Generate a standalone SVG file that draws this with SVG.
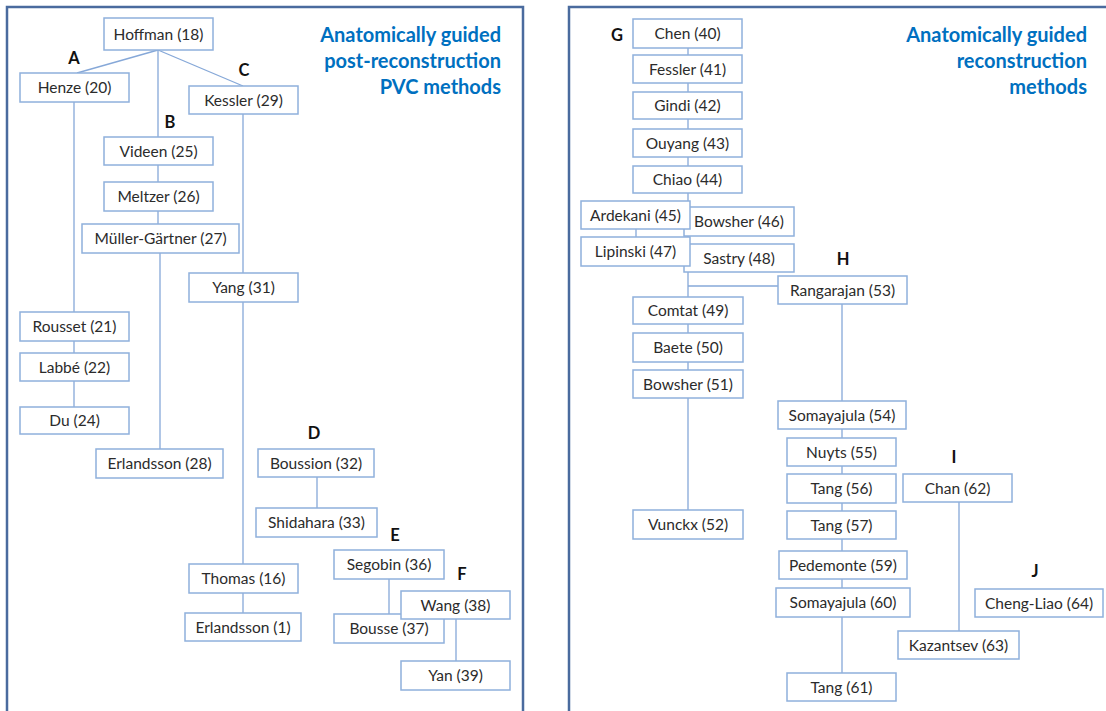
<svg xmlns="http://www.w3.org/2000/svg" width="1106" height="711" viewBox="0 0 1106 711">
<style>
.frame{fill:none;stroke:#4A6B9E;stroke-width:2.5}
.n rect{fill:#fff;stroke:#8FB0DC;stroke-width:1.5}
.n text{font-family:Lato,"Liberation Sans",sans-serif;font-size:15.5px;fill:#2b2b2b;text-anchor:middle}
.c path{fill:none;stroke:#86A8D8;stroke-width:1.3}
.lbl{font-family:Lato,"Liberation Sans",sans-serif;font-size:16.5px;font-weight:bold;fill:#111;text-anchor:middle}
.title{font-family:Lato,"Liberation Sans",sans-serif;font-size:20px;font-weight:bold;fill:#0070C0;text-anchor:end}
</style>
<rect width="1106" height="711" fill="#fff"/>
<rect class="frame" x="7" y="7" width="516" height="730"/>
<rect class="frame" x="569" y="7" width="560" height="730"/>
<text class="title" x="501" y="42">Anatomically guided</text>
<text class="title" x="501" y="68">post-reconstruction</text>
<text class="title" x="501" y="94">PVC methods</text>
<text class="title" x="1087" y="42">Anatomically guided</text>
<text class="title" x="1087" y="68">reconstruction</text>
<text class="title" x="1087" y="94">methods</text>
<g class="c">
<path d="M158,50 L77,73"/>
<path d="M158,50 L243,86"/>
<path d="M158,50 V137"/>
<path d="M74,102 V312"/>
<path d="M74,341 V353"/>
<path d="M74,381 V407"/>
<path d="M158,165 V182"/>
<path d="M158,211 V224"/>
<path d="M160,253 V449"/>
<path d="M243,114 V273"/>
<path d="M243,302 V564"/>
<path d="M317,477 V508"/>
<path d="M243,593 V613"/>
<path d="M389,579 V614"/>
<path d="M456,619 V661"/>
<path d="M688,48 V297"/>
<path d="M636,229 V237"/>
<path d="M688,286 H778"/>
<path d="M688,324 V333"/>
<path d="M688,362 V370"/>
<path d="M688,398 V510"/>
<path d="M842,304 V401"/>
<path d="M842,429 V673"/>
<path d="M959,502 V631"/>
</g>
<g class="lbl">
<text class="lbl" x="74" y="64">A</text>
<text class="lbl" x="170" y="128">B</text>
<text class="lbl" x="244" y="76">C</text>
<text class="lbl" x="314" y="439">D</text>
<text class="lbl" x="395" y="541">E</text>
<text class="lbl" x="462" y="580">F</text>
<text class="lbl" x="617" y="41">G</text>
<text class="lbl" x="843" y="265">H</text>
<text class="lbl" x="954" y="463">I</text>
<text class="lbl" x="1035" y="577">J</text>
</g>
<g id="hoffman" class="n"><rect x="104" y="18" width="109" height="32"/><text x="158.5" y="39.5">Hoffman (18)</text></g>
<g id="henze" class="n"><rect x="20" y="73" width="109" height="29"/><text x="74.5" y="93">Henze (20)</text></g>
<g id="kessler" class="n"><rect x="189" y="86" width="109" height="28"/><text x="243.5" y="105.5">Kessler (29)</text></g>
<g id="videen" class="n"><rect x="104" y="137" width="109" height="28"/><text x="158.5" y="156.5">Videen (25)</text></g>
<g id="meltzer" class="n"><rect x="104" y="182" width="109" height="29"/><text x="158.5" y="202">Meltzer (26)</text></g>
<g id="muller" class="n"><rect x="82" y="224" width="157" height="29"/><text x="160.5" y="244">Müller-Gärtner (27)</text></g>
<g id="yang" class="n"><rect x="189" y="273" width="109" height="29"/><text x="243.5" y="293">Yang (31)</text></g>
<g id="rousset" class="n"><rect x="20" y="312" width="109" height="29"/><text x="74.5" y="332">Rousset (21)</text></g>
<g id="labbe" class="n"><rect x="20" y="353" width="109" height="28"/><text x="74.5" y="372.5">Labbé (22)</text></g>
<g id="du" class="n"><rect x="20" y="407" width="109" height="27"/><text x="74.5" y="426">Du (24)</text></g>
<g id="erlandsson28" class="n"><rect x="96" y="449" width="127" height="29"/><text x="159.5" y="469">Erlandsson (28)</text></g>
<g id="boussion" class="n"><rect x="258" y="449" width="116" height="28"/><text x="316" y="468.5">Boussion (32)</text></g>
<g id="shidahara" class="n"><rect x="256" y="508" width="121" height="29"/><text x="316.5" y="528">Shidahara (33)</text></g>
<g id="thomas" class="n"><rect x="189" y="564" width="109" height="29"/><text x="243.5" y="584">Thomas (16)</text></g>
<g id="erlandsson1" class="n"><rect x="185" y="613" width="116" height="28"/><text x="243" y="632.5">Erlandsson (1)</text></g>
<g id="segobin" class="n"><rect x="334" y="550" width="110" height="29"/><text x="389" y="570">Segobin (36)</text></g>
<g id="bousse" class="n"><rect x="334" y="614" width="110" height="29"/><text x="389" y="634">Bousse (37)</text></g>
<g id="wang" class="n"><rect x="401" y="591" width="109" height="28"/><text x="455.5" y="610.5">Wang (38)</text></g>
<g id="yan" class="n"><rect x="401" y="661" width="109" height="29"/><text x="455.5" y="681">Yan (39)</text></g>
<g id="chen" class="n"><rect x="633" y="19" width="109" height="29"/><text x="687.5" y="39">Chen (40)</text></g>
<g id="fessler" class="n"><rect x="633" y="55" width="109" height="28"/><text x="687.5" y="74.5">Fessler (41)</text></g>
<g id="gindi" class="n"><rect x="633" y="92" width="109" height="27"/><text x="687.5" y="111">Gindi (42)</text></g>
<g id="ouyang" class="n"><rect x="633" y="129" width="109" height="28"/><text x="687.5" y="148.5">Ouyang (43)</text></g>
<g id="chiao" class="n"><rect x="633" y="166" width="109" height="27"/><text x="687.5" y="185">Chiao (44)</text></g>
<g id="bowsher46" class="n"><rect x="684" y="207" width="110" height="29"/><text x="739" y="227">Bowsher (46)</text></g>
<g id="ardekani" class="n"><rect x="581" y="201" width="109" height="28"/><text x="635.5" y="220.5">Ardekani (45)</text></g>
<g id="sastry" class="n"><rect x="684" y="244" width="110" height="28"/><text x="739" y="263.5">Sastry (48)</text></g>
<g id="lipinski" class="n"><rect x="581" y="237" width="109" height="29"/><text x="635.5" y="257">Lipinski (47)</text></g>
<g id="comtat" class="n"><rect x="633" y="297" width="110" height="27"/><text x="688" y="316">Comtat (49)</text></g>
<g id="baete" class="n"><rect x="633" y="333" width="110" height="29"/><text x="688" y="353">Baete (50)</text></g>
<g id="bowsher51" class="n"><rect x="633" y="370" width="110" height="28"/><text x="688" y="389.5">Bowsher (51)</text></g>
<g id="vunckx" class="n"><rect x="633" y="510" width="110" height="29"/><text x="688" y="530">Vunckx (52)</text></g>
<g id="rangarajan" class="n"><rect x="778" y="276" width="129" height="28"/><text x="842.5" y="295.5">Rangarajan (53)</text></g>
<g id="somayajula54" class="n"><rect x="778" y="401" width="128" height="28"/><text x="842" y="420.5">Somayajula (54)</text></g>
<g id="nuyts" class="n"><rect x="787" y="438" width="109" height="28"/><text x="841.5" y="457.5">Nuyts (55)</text></g>
<g id="tang56" class="n"><rect x="787" y="474" width="109" height="29"/><text x="841.5" y="494">Tang (56)</text></g>
<g id="tang57" class="n"><rect x="787" y="511" width="109" height="28"/><text x="841.5" y="530.5">Tang (57)</text></g>
<g id="pedemonte" class="n"><rect x="779" y="551" width="128" height="28"/><text x="843" y="570.5">Pedemonte (59)</text></g>
<g id="somayajula60" class="n"><rect x="776" y="588" width="134" height="29"/><text x="843" y="608">Somayajula (60)</text></g>
<g id="tang61" class="n"><rect x="787" y="673" width="109" height="28"/><text x="841.5" y="692.5">Tang (61)</text></g>
<g id="chan" class="n"><rect x="903" y="474" width="109" height="28"/><text x="957.5" y="493.5">Chan (62)</text></g>
<g id="kazantsev" class="n"><rect x="898" y="631" width="121" height="28"/><text x="958.5" y="650.5">Kazantsev (63)</text></g>
<g id="chengliao" class="n"><rect x="975" y="589" width="128" height="28"/><text x="1039" y="608.5">Cheng-Liao (64)</text></g>
</svg>
